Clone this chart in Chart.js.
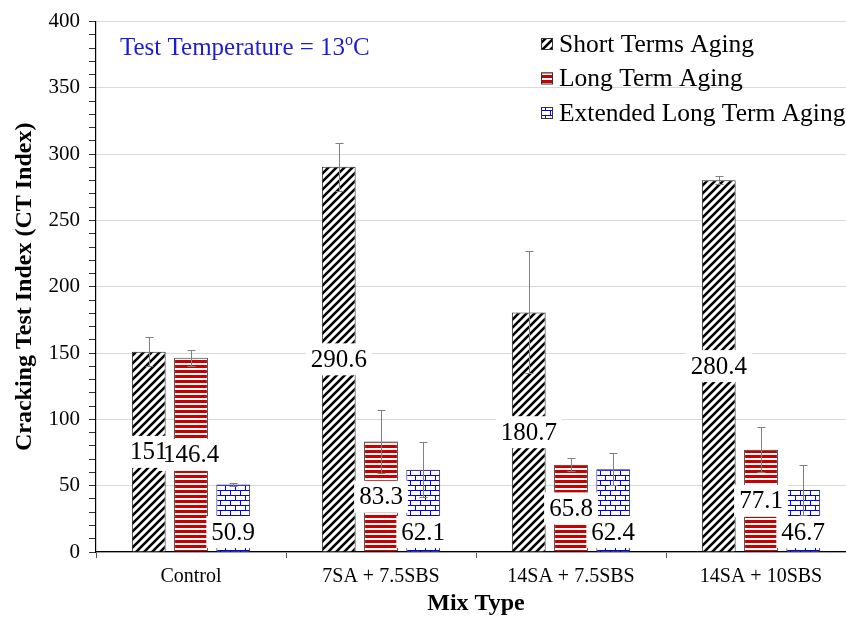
<!DOCTYPE html>
<html>
<head>
<meta charset="utf-8">
<script src="https://cdn.jsdelivr.net/npm/chart.js@4/dist/chart.umd.min.js"></script>
<style>
  html, body { margin: 0; background: #fff; overflow: hidden; }
  canvas { display: block; }
</style>
</head>
<body>
<canvas id="ctChart" width="856" height="620"></canvas>
<script>
const mixTypes = ["Control", "7SA + 7.5SBS", "14SA + 7.5SBS", "14SA + 10SBS"];
const seriesNames = ["Short Terms Aging", "Long Term Aging", "Extended Long Term Aging"];
const shortTerm = [151, 290.6, 180.7, 280.4];
const longTerm = [146.4, 83.3, 65.8, 77.1];
const extendedLong = [50.9, 62.1, 62.4, 46.7];
const shortErr = [11, 18, 46, 3];
const longErr = [6, 24, 5, 17];
const extendedErr = [1.5, 20.5, 12, 19];
const yTicks = [0, 50, 100, 150, 200, 250, 300, 350, 400];

const serif = "'Liberation Serif', 'Times New Roman', serif";

function makePattern(w, h, draw) {
    const c = document.createElement("canvas");
    c.width = w;
    c.height = h;
    const g = c.getContext("2d");
    g.fillStyle = "#fff";
    g.fillRect(0, 0, w, h);
    draw(g);
    return g.createPattern(c, "repeat");
}

// black diagonal hatch
const hatch = makePattern(8, 8, g => {
    g.strokeStyle = "#000";
    g.lineWidth = 2.6;
    g.beginPath();
    g.moveTo(-2, 10); g.lineTo(10, -2);
    g.moveTo(-6, 6); g.lineTo(6, -6);
    g.moveTo(2, 14); g.lineTo(14, 2);
    g.stroke();
});

// red horizontal stripes
const stripes = makePattern(5, 5, g => {
    g.fillStyle = "#c80000";
    g.fillRect(0, 0, 5, 3);
});

// blue bricks
const bricks = makePattern(10, 10, g => {
    g.fillStyle = "#0000ff";
    g.fillRect(0, 0, 10, 1);
    g.fillRect(0, 5, 10, 1);
    g.fillRect(0, 0, 1, 5);
    g.fillRect(5, 5, 1, 5);
});

const errors = [shortErr, longErr, extendedErr];

const errorBars = {
    id: "errorBars",
    afterDatasetsDraw(chart) {
        const ctx = chart.ctx;
        const y = chart.scales.y;
        ctx.save();
        ctx.strokeStyle = "#808080";
        ctx.lineWidth = 1;
        chart.data.datasets.forEach((ds, di) => {
            chart.getDatasetMeta(di).data.forEach((bar, i) => {
                const v = ds.data[i], e = errors[di][i];
                const top = Math.round(y.getPixelForValue(v + e)) + 0.5;
                const bot = Math.round(y.getPixelForValue(v - e)) + 0.5;
                const x = Math.round(bar.x) + 0.5;
                ctx.beginPath();
                ctx.moveTo(x, top); ctx.lineTo(x, bot);
                ctx.moveTo(x - 4, top); ctx.lineTo(x + 4, top);
                ctx.moveTo(x - 4, bot); ctx.lineTo(x + 4, bot);
                ctx.stroke();
            });
        });
        ctx.restore();

        // value labels in white boxes: boxes first, then the text
        ctx.save();
        ctx.font = "25px " + serif;
        ctx.textAlign = "center";
        ctx.textBaseline = "middle";
        const base = y.getPixelForValue(0);
        const items = [];
        chart.data.datasets.forEach((ds, di) => {
            chart.getDatasetMeta(di).data.forEach((bar, i) => {
                const txt = String(ds.data[i]);
                const w = ctx.measureText(txt).width + 10;
                const h = 32;
                const cy = di === 2 ? base - 20 : (bar.y + base) / 2;
                items.push({ txt, x: bar.x, cy, w, h });
            });
        });
        ctx.fillStyle = "#fff";
        items.forEach(it => ctx.fillRect(it.x - it.w / 2, it.cy - it.h / 2, it.w, it.h));
        ctx.fillStyle = "#000";
        items.forEach(it => ctx.fillText(it.txt, it.x, it.cy + 1));
        ctx.restore();
    },
    afterDraw(chart) {
        const ctx = chart.ctx;
        ctx.save();
        // legend
        ctx.font = "25.5px " + serif;
        ctx.textBaseline = "middle";
        const fills = [hatch, stripes, bricks];
        seriesNames.forEach((name, i) => {
            const cy = 44 + i * 34.5;
            ctx.fillStyle = fills[i];
            ctx.fillRect(541, cy - 6, 12, 12);
            ctx.strokeStyle = "#333";
            ctx.lineWidth = 1;
            ctx.strokeRect(541.5, cy - 5.5, 11, 11);
            ctx.fillStyle = "#000";
            ctx.fillText(name, 559, cy + 1);
        });
        // temperature note
        ctx.fillStyle = "#1c1cd0";
        ctx.font = "25px " + serif;
        ctx.textBaseline = "alphabetic";
        const main = "Test Temperature = 13";
        ctx.fillText(main, 120, 55);
        let x = 120 + ctx.measureText(main).width;
        ctx.font = "16px " + serif;
        ctx.fillText("o", x, 45);
        x += ctx.measureText("o").width;
        ctx.font = "25px " + serif;
        ctx.fillText("C", x, 55);
        ctx.restore();
    }
};

new Chart(document.getElementById("ctChart"), {
    type: "bar",
    data: {
        labels: mixTypes,
        datasets: [
            { label: seriesNames[0], data: shortTerm, backgroundColor: hatch, borderColor: "#222", borderWidth: 1 },
            { label: seriesNames[1], data: longTerm, backgroundColor: stripes, borderColor: "#333", borderWidth: 1 },
            { label: seriesNames[2], data: extendedLong, backgroundColor: bricks, borderColor: "#1a1a66", borderWidth: 1 }
        ]
    },
    options: {
        responsive: false,
        devicePixelRatio: 1,
        animation: false,
        layout: { padding: { top: 20, right: 0, left: 0, bottom: 0 } },
        datasets: { bar: { categoryPercentage: 0.667, barPercentage: 0.8 } },
        plugins: {
            legend: { display: false },
            tooltip: { enabled: false }
        },
        scales: {
            x: {
                afterFit(s) { s.height = 68; },
                grid: { drawOnChartArea: false, tickLength: 6, tickColor: "#555", offset: true },
                border: { color: "#000", width: 1.2 },
                ticks: { color: "#000", font: { family: serif, size: 20 }, padding: 7 },
                title: { display: true, text: "Mix Type", color: "#000", font: { family: serif, size: 24, weight: "bold" }, padding: { top: 0, bottom: 2 } }
            },
            y: {
                min: 0,
                max: 400,
                afterFit(s) { s.width = 96; },
                afterBuildTicks(s) {
                    const t = [];
                    for (let v = 0; v <= 400; v += 10) t.push({ value: v });
                    s.ticks = t;
                },
                grid: {
                    color: c => (yTicks.includes(c.tick.value) ? "#d9d9d9" : "transparent"),
                    tickColor: "#333",
                    tickLength: 7
                },
                border: { color: "#000", width: 1.2 },
                ticks: {
                    autoSkip: false,
                    color: "#000",
                    font: { family: serif, size: 21 },
                    padding: 9,
                    callback: v => (yTicks.includes(v) ? v : "")
                },
                title: { display: true, text: "Cracking Test Index (CT Index)", color: "#000", font: { family: serif, size: 24, weight: "bold" }, padding: { top: 10, bottom: 0 } }
            }
        }
    },
    plugins: [errorBars]
});
</script>
</body>
</html>
